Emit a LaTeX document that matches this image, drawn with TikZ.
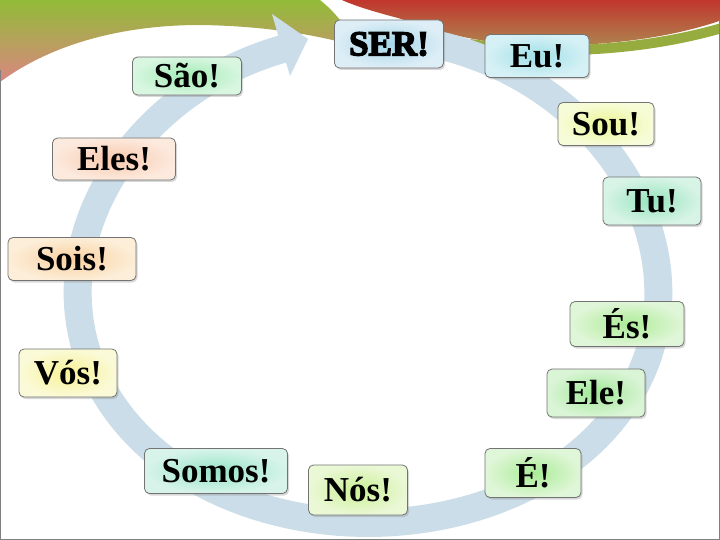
\documentclass[tikz,border=0pt]{standalone}
\usepackage{fontspec}
\setmainfont{Liberation Serif}
\newfontfamily\serfont{Liberation Serif}[BoldFeatures={FakeBold=4}]
\usetikzlibrary{shadows}

% Slide colours
\definecolor{slidegreen}{RGB}{146,187,56}
\definecolor{slidered}{RGB}{193,54,45}
\definecolor{slidekhaki}{RGB}{172,140,82}
\definecolor{slideolive}{RGB}{150,172,62}
\definecolor{cyclecol}{RGB}{203,221,232}
\definecolor{framecol}{RGB}{128,128,128}

% Box colours (outer / inner glow)
\definecolor{serout}{RGB}{222,238,246}   \definecolor{serin}{RGB}{165,214,234}
\definecolor{euout}{RGB}{214,241,245}    \definecolor{euin}{RGB}{160,224,232}
\definecolor{souout}{RGB}{247,252,216}   \definecolor{souin}{RGB}{236,246,150}
\definecolor{tuout}{RGB}{216,244,230}    \definecolor{tuin}{RGB}{150,228,190}
\definecolor{esout}{RGB}{224,246,216}    \definecolor{esin}{RGB}{172,236,150}
\definecolor{eleout}{RGB}{218,244,214}   \definecolor{elein}{RGB}{160,232,150}
\definecolor{eout}{RGB}{224,246,216}     \definecolor{ein}{RGB}{170,236,150}
\definecolor{nosout}{RGB}{234,248,214}   \definecolor{nosin}{RGB}{204,240,150}
\definecolor{somosout}{RGB}{216,244,234} \definecolor{somosin}{RGB}{150,228,200}
\definecolor{vosout}{RGB}{250,250,216}   \definecolor{vosin}{RGB}{248,242,150}
\definecolor{soisout}{RGB}{252,238,216}  \definecolor{soisin}{RGB}{250,208,160}
\definecolor{elesout}{RGB}{252,234,222}  \definecolor{elesin}{RGB}{250,200,172}
\definecolor{saoout}{RGB}{216,246,224}   \definecolor{saoin}{RGB}{160,236,180}

\tikzset{
  formbox/.style={draw=black!55, line width=0.8pt, rounded corners=5pt, inner sep=0pt,
    drop shadow={opacity=0.3, shadow xshift=1.5pt, shadow yshift=-2pt},
    font=\fontsize{35}{38}\selectfont\bfseries},
  glow/.style 2 args={inner color=#2, outer color=#1}
}

\begin{document}
\begin{tikzpicture}[x=1pt, y=-1pt]
\useasboundingbox (0,0) rectangle (720,540);

% Slide background
\fill[white] (0,0) rectangle (720,540);

% Green swoosh (top left)
\shade[top color=slidegreen, middle color=slidegreen, bottom color=slidered!60!white]
  (0,0) -- (320,0) .. controls (335,12) and (348,28) .. (356,46)
  .. controls (320,36) and (270,26) .. (200,25)
  .. controls (120,25) and (50,45) .. (0,82) -- cycle;

% Red swoosh (top right)
\draw[slideolive, line width=10pt] (470,44) .. controls (570,58) and (660,46) .. (722,28);
\shade[top color=slidered, middle color=slidered, bottom color=slidekhaki]
  (342,0) -- (722,0) -- (722,20) .. controls (660,42) and (570,50) .. (500,43)
  .. controls (450,37) and (420,25) .. (398,18)
  .. controls (375,12) and (355,6) .. (342,0) -- cycle;

% Cycle arrow
\draw[cyclecol, line width=28pt] plot[domain=-80:252, samples=150, variable=\t]
  ({368+(290+15*sin(\t))*cos(\t)}, {280+243*sin(\t)});
\fill[cyclecol] (272,14) -- (308,39) -- (290,76) -- cycle;

% Slide frame
\draw[framecol, line width=1.2pt] (0.6,70) -- (0.6,539.4) -- (719.4,539.4) -- (719.4,20);

% Verb forms
\node[formbox, glow={serout}{serin}, minimum width=109, minimum height=48] (ser) at (389,44) {\serfont SER!};
\node[formbox, glow={euout}{euin}, minimum width=104, minimum height=43] (eu) at (537,56) {Eu!};
\node[formbox, glow={souout}{souin}, minimum width=96, minimum height=43] (sou) at (606,124) {Sou!};
\node[formbox, glow={tuout}{tuin}, minimum width=98, minimum height=48] (tu) at (652,201) {Tu!};
\node[formbox, glow={esout}{esin}, minimum width=114, minimum height=45] (es) at (627,324) {És!};
\node[formbox, glow={eleout}{elein}, minimum width=98, minimum height=48] (ele) at (596,393) {Ele!};
\node[formbox, glow={eout}{ein}, minimum width=96, minimum height=49] (e) at (533,473) {É!};
\node[formbox, glow={nosout}{nosin}, minimum width=99, minimum height=50] (nos) at (358,490) {Nós!};
\node[formbox, glow={somosout}{somosin}, minimum width=143, minimum height=45] (somos) at (216,471) {Somos!};
\node[formbox, glow={vosout}{vosin}, minimum width=98, minimum height=48] (vos) at (68,373) {Vós!};
\node[formbox, glow={soisout}{soisin}, minimum width=128, minimum height=43] (sois) at (72,259) {Sois!};
\node[formbox, glow={elesout}{elesin}, minimum width=123, minimum height=42] (eles) at (114,159) {Eles!};
\node[formbox, glow={saoout}{saoin}, minimum width=109, minimum height=38] (sao) at (187,76) {São!};

\end{tikzpicture}
\end{document}
